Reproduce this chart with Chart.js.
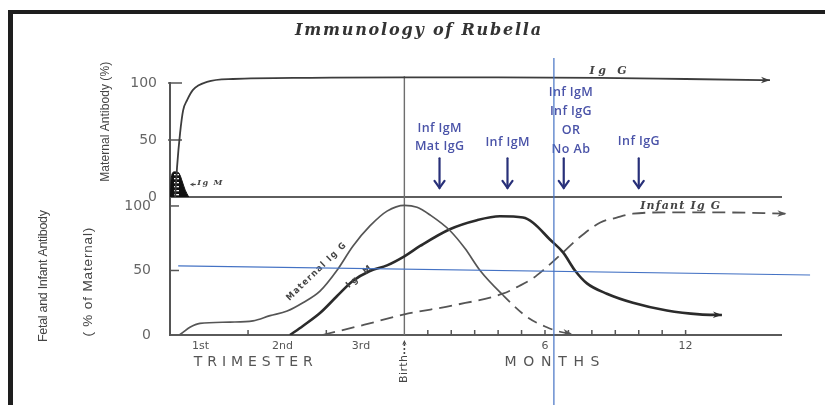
<!DOCTYPE html>
<html>
<head>
<meta charset="utf-8">
<script src="https://cdn.jsdelivr.net/npm/chart.js@4.4.1/dist/chart.umd.min.js"></script>
<style>
html,body{margin:0;padding:0;background:#fff;}
#wrap{position:relative;width:825px;height:405px;overflow:hidden;background:#fff;}
canvas{display:block;}
</style>
</head>
<body>
<div id="wrap"><canvas id="chart" width="825" height="405"></canvas></div>
<script>
// ===== Data =====
// x: months relative to birth (pregnancy drawn over -10..0, three trimesters)
// y: antibody level in %

// Upper panel: maternal antibody
const motherIgG_x = [-9.78, -9.7, -9.57, -9.44, -9.27, -9.02, -8.42, -7.31, -4, 0, 4, 8.3, 12, 15.6];
const motherIgG_y = [0, 26, 56, 76, 85, 94, 101, 103.5, 104.5, 105, 105, 104.5, 103.5, 102.5];
const motherIgM_x = [-9.98, -9.95, -9.88, -9.75, -9.62, -9.5, -9.35, -9.2];
const motherIgM_y = [0, 16, 21.5, 22, 21, 15, 6, 0];

// Lower panel: fetal and infant antibody (% of maternal)
const maternalIgG_x = [-9.6, -9.45, -9.15, -8.72, -7.44, -6.46, -5.73, -5.0, -4.33, -3.6, -2.88, -2.19, -1.47, -0.74, 0, 0.54, 1.1, 1.94, 2.59, 3.23, 4.2, 5.23, 6.08, 6.64, 7.15];
const maternalIgG_y = [0, 2, 6, 9, 10, 11, 15, 18.6, 25, 34, 50, 69, 84.5, 96, 100.5, 99, 93, 81, 67, 50, 31, 14, 6, 2.5, 1];
const fetalIgM_x = [-4.88, -4.33, -3.6, -2.88, -2.19, -1.47, -0.74, 0, 0.67, 1.94, 3.1, 4.08, 5.06, 5.49, 6.21, 6.77, 7.28, 7.79, 8.64, 9.75, 11.2, 12.6, 13.55];
const fetalIgM_y = [0, 7, 17, 30, 42, 49.6, 54, 61, 69, 82, 89, 92, 91, 87, 74, 64, 50, 40, 32, 25, 19, 16, 15.5];
const infantIgG_x = [-3.5, -1.7, 0, 2.1, 4.2, 4.9, 5.49, 5.91, 6.77, 7.36, 8.34, 9.06, 9.75, 11.2, 13.5, 16.3];
const infantIgG_y = [0, 8, 16, 23, 32, 38, 44, 50, 64, 74, 87, 91, 94, 95, 95, 94];

// Axis ticks and labels
const xTickValues = [-8.7, -5.2, -1.85, 6, 12];
const xTickLabels = ['1st', '2nd', '3rd', '6', '12'];
const yTickValues = [0, 50, 100];
const yTickLabels = ['0', '50', '100'];
const trimesterBounds = [-6.67, -3.33];
const monthTicks = [1, 2, 3, 4, 5, 6, 7, 8, 9, 10, 11, 12];

// Blue notes (month of arrow, month of text centre, lines, value of last text line on upper scale)
const noteMonths = [1.5, 4.4, 6.8, 10.0];
const noteTextMonths = [1.5, 4.4, 7.1, 10.0];
const noteLines = [['Inf IgM', 'Mat IgG'], ['Inf IgM'], ['Inf IgM', 'Inf IgG', 'OR', 'No Ab'], ['Inf IgG']];
const noteBaseValues = [44, 48, 42, 49];

// Blue guide lines drawn over the figure
const guideV_month = 6.38;
const guideH_months = [-9.65, 17.31];
const guideH_values = [53.5, 46.5];

// ===== Chart =====
Chart.defaults.font.family = "'DejaVu Sans', sans-serif";
const pts = (xs, ys) => xs.map((x, i) => ({ x, y: ys[i] }));

const canvas = document.getElementById('chart');
const mainCtx = canvas.getContext('2d');
function stripes() {
  const c = document.createElement('canvas');
  c.width = 20; c.height = 4;
  const g = c.getContext('2d');
  g.fillStyle = '#111'; g.fillRect(0, 0, 20, 4);
  g.fillStyle = '#fff'; g.fillRect(14, 2, 5, 1.3);
  return mainCtx.createPattern(c, 'repeat');
}

function seg(ctx, x1, y1, x2, y2) {
  ctx.beginPath(); ctx.moveTo(x1, y1); ctx.lineTo(x2, y2); ctx.stroke();
}
function txt(ctx, s, cx, cy, o) {
  ctx.save();
  ctx.translate(cx, cy);
  if (o.angle) ctx.rotate(o.angle);
  ctx.font = o.font;
  ctx.fillStyle = o.color || '#444';
  ctx.textBaseline = 'middle';
  ctx.textAlign = 'left';
  ctx.letterSpacing = '0px';
  let w = ctx.measureText(s).width;
  if (o.width) {
    const sp = (o.width - w) / Math.max(1, s.length - 1);
    ctx.letterSpacing = sp.toFixed(2) + 'px';
    w = o.width;
  } else if (o.spacing) {
    ctx.letterSpacing = o.spacing + 'px';
    w = w + o.spacing * (s.length - 1);
  }
  const x0 = o.align === 'right' ? -w : -w / 2;
  ctx.fillText(s, x0, 0);
  ctx.restore();
}
function head(ctx, x1, y1, x2, y2, len, half, color) {
  const a = Math.atan2(y2 - y1, x2 - x1);
  ctx.save();
  ctx.translate(x2, y2); ctx.rotate(a);
  ctx.beginPath();
  ctx.moveTo(0, 0); ctx.lineTo(-len, -half); ctx.lineTo(-len * 0.7, 0); ctx.lineTo(-len, half);
  ctx.closePath();
  ctx.fillStyle = color; ctx.fill();
  ctx.restore();
}

const deco = {
  id: 'deco',
  beforeDatasetsDraw(chart) {
    const { ctx, chartArea: a, scales: { x, yT, yB } } = chart;
    ctx.save();
    // base line of upper panel
    const y0T = yT.getPixelForValue(0);
    ctx.strokeStyle = '#5e5e5e'; ctx.lineWidth = 2;
    seg(ctx, a.left, y0T, a.right + 1, y0T);
    // birth line
    const xb = x.getPixelForValue(0);
    ctx.strokeStyle = '#6e6e6e'; ctx.lineWidth = 1.4;
    seg(ctx, xb, yT.getPixelForValue(106), xb, a.bottom);
    // inward y ticks
    ctx.strokeStyle = '#555'; ctx.lineWidth = 1.5;
    for (const v of yTickValues) {
      if (v === 0) continue;
      const p1 = yT.getPixelForValue(v), p2 = yB.getPixelForValue(v);
      seg(ctx, a.left - 2, p1, a.left + 12, p1);
      seg(ctx, a.left, p2, a.left + 9, p2);
    }
    // inward x ticks
    for (const v of trimesterBounds.concat(monthTicks)) {
      const px = x.getPixelForValue(v);
      seg(ctx, px, a.bottom, px, a.bottom - 5);
    }
    ctx.restore();
  },
  afterDatasetsDraw(chart) {
    const { ctx } = chart;
    chart.data.datasets.forEach((ds, i) => {
      if (!ds.arrow) return;
      const d = chart.getDatasetMeta(i).data;
      const p = d[d.length - 1], q = d[d.length - 2];
      head(ctx, q.x, q.y, p.x, p.y, 9, 3.2, ds.borderColor);
    });
  },
  afterDraw(chart) {
    const { ctx, chartArea: a, scales: { x, yT, yB } } = chart;
    ctx.save();
    // frame of the scanned figure
    ctx.fillStyle = '#1e1e1e';
    ctx.fillRect(8, 10, 5, 395);
    ctx.fillRect(8, 10, 817, 4);

    // title
    txt(ctx, 'Immunology of Rubella', 418, 31, { font: 'italic bold 16px "DejaVu Serif"', color: '#333', width: 246 });

    // upper panel tick labels (upper scale)
    yTickValues.forEach((v, i) => {
      txt(ctx, yTickLabels[i], a.left - 13, yT.getPixelForValue(v), { font: '14px "DejaVu Sans"', color: '#666', align: 'right' });
    });

    // axis titles
    const narrow = '12.5px "Liberation Sans", sans-serif';
    txt(ctx, 'Maternal Antibody (%)', 106, yT.getPixelForValue(66), { font: '12px "Liberation Sans", sans-serif', color: '#444', width: 120, angle: -Math.PI / 2 });
    txt(ctx, 'Fetal and Infant Antibody', 44, yB.getPixelForValue(45.7), { font: narrow, color: '#444', width: 132, angle: -Math.PI / 2 });
    txt(ctx, '( % of Maternal)', 88, yB.getPixelForValue(41), { font: '13.5px "Liberation Sans", sans-serif', color: '#444', width: 109, angle: -Math.PI / 2 });

    // x-axis titles
    txt(ctx, 'TRIMESTER', x.getPixelForValue(-6.45), a.bottom + 27, { font: '14px "DejaVu Sans"', color: '#555', width: 119 });
    txt(ctx, 'MONTHS', x.getPixelForValue(6.3), a.bottom + 27, { font: '14px "DejaVu Sans"', color: '#555', width: 95 });
    const xb = x.getPixelForValue(0);
    txt(ctx, 'Birth', xb, a.bottom + 34, { font: '11px "DejaVu Sans"', color: '#444', width: 28, angle: -Math.PI / 2 });
    ctx.strokeStyle = '#444'; ctx.lineWidth = 1.6; ctx.setLineDash([2, 2]);
    seg(ctx, xb, a.bottom + 19, xb, a.bottom + 9);
    ctx.setLineDash([]);
    head(ctx, xb, a.bottom + 12, xb, a.bottom + 5, 5, 2.2, '#444');

    // curve labels
    txt(ctx, 'Ig G', x.getPixelForValue(8.69), yT.getPixelForValue(110.5), { font: 'italic bold 11px "DejaVu Serif"', color: '#444', width: 37 });
    txt(ctx, 'Ig M', x.getPixelForValue(-8.3), yT.getPixelForValue(12), { font: 'italic bold 8px "DejaVu Serif"', color: '#444', width: 25 });
    ctx.strokeStyle = '#444'; ctx.lineWidth = 1.2;
    const ax1 = x.getPixelForValue(-8.9), ax2 = x.getPixelForValue(-9.15), ay = yT.getPixelForValue(11);
    seg(ctx, ax1, ay, ax2 + 3, ay);
    head(ctx, ax1, ay, ax2, ay, 4, 2, '#444');
    txt(ctx, 'Infant Ig G', x.getPixelForValue(11.77), yB.getPixelForValue(100), { font: 'italic bold 11px "DejaVu Serif"', color: '#444', width: 80 });
    txt(ctx, 'Maternal Ig G', x.getPixelForValue(-3.76), yB.getPixelForValue(49), { font: 'bold 9px "DejaVu Sans Condensed", "DejaVu Sans"', color: '#444', width: 79, angle: -44 * Math.PI / 180 });
    txt(ctx, 'Ig M', x.getPixelForValue(-1.94), yB.getPixelForValue(45), { font: 'bold 9px "DejaVu Sans Condensed", "DejaVu Sans"', color: '#444', width: 30, angle: -39 * Math.PI / 180 });

    // blue notes and arrows
    noteMonths.forEach((m, i) => {
      const lines = noteLines[i];
      const cx = x.getPixelForValue(noteTextMonths[i]);
      const yBase = yT.getPixelForValue(noteBaseValues[i]);
      lines.forEach((s, k) => {
        const y = yBase - (lines.length - 1 - k) * 18.8;
        txt(ctx, s, cx, y, { font: '600 12.5px "Open Sans"', color: '#4a53a8', spacing: 0.4 });
      });
      const ax = x.getPixelForValue(m);
      const y1 = yT.getPixelForValue(34), y2 = yT.getPixelForValue(8);
      ctx.strokeStyle = '#283079'; ctx.lineWidth = 2.2; ctx.lineCap = 'round';
      seg(ctx, ax, y1, ax, y2);
      ctx.beginPath(); ctx.moveTo(ax - 5, y2 - 7); ctx.lineTo(ax, y2); ctx.lineTo(ax + 5, y2 - 7); ctx.stroke();
    });

    // blue guide lines
    ctx.strokeStyle = '#4472c4'; ctx.lineWidth = 1.2; ctx.lineCap = 'butt';
    const gx = x.getPixelForValue(guideV_month);
    seg(ctx, gx, yT.getPixelForValue(122), gx, chart.height);
    seg(ctx, x.getPixelForValue(guideH_months[0]), yB.getPixelForValue(guideH_values[0]),
             x.getPixelForValue(guideH_months[1]), yB.getPixelForValue(guideH_values[1]));
    ctx.restore();
  }
};

new Chart(canvas, {
  type: 'line',
  data: {
    datasets: [
      { label: 'Maternal IgG', data: pts(motherIgG_x, motherIgG_y), yAxisID: 'yT', borderColor: '#3d3d3d', borderWidth: 1.8, arrow: true, clip: false },
      { label: 'Maternal IgM', data: pts(motherIgM_x, motherIgM_y), yAxisID: 'yT', borderColor: '#111', borderWidth: 1, backgroundColor: stripes(), fill: 'origin', cubicInterpolationMode: 'default', tension: 0.35 },
      { label: 'Maternal IgG in fetus/infant', data: pts(maternalIgG_x, maternalIgG_y), yAxisID: 'yB', borderColor: '#555', borderWidth: 1.7, arrow: true,
        segment: { borderDash: c => c.p0.parsed.x >= 4.1 ? [10, 7] : undefined } },
      { label: 'Ig M', data: pts(fetalIgM_x, fetalIgM_y), yAxisID: 'yB', borderColor: '#2b2b2b', borderWidth: 2.6, arrow: true },
      { label: 'Infant Ig G', data: pts(infantIgG_x, infantIgG_y), yAxisID: 'yB', borderColor: '#555', borderWidth: 1.8, borderDash: [13, 7], arrow: true, clip: false }
    ]
  },
  options: {
    responsive: false,
    animation: false,
    devicePixelRatio: 1,
    events: [],
    layout: { padding: { top: 83, right: 44, bottom: 0, left: 0 } },
    elements: {
      point: { radius: 0 },
      line: { cubicInterpolationMode: 'monotone', fill: false }
    },
    plugins: { legend: { display: false }, tooltip: { enabled: false }, title: { display: false } },
    scales: {
      x: {
        type: 'linear', position: 'bottom', min: -10, max: 16.07,
        afterFit: s => { s.height = 70; },
        afterBuildTicks: s => { s.ticks = xTickValues.map(v => ({ value: v })); },
        grid: { display: false, drawTicks: false },
        border: { display: true, color: '#5a5a5a', width: 2 },
        ticks: { autoSkip: false, maxRotation: 0, padding: 5, color: '#555', font: { size: 11 },
                 callback: (v, i) => xTickLabels[i] }
      },
      yB: {
        type: 'linear', position: 'left', weight: 1, min: 0, max: 195.3,
        afterFit: s => { s.width = 170; },
        afterBuildTicks: s => { s.ticks = yTickValues.map(v => ({ value: v })); },
        grid: { display: false, drawTicks: false },
        border: { display: true, color: '#555', width: 2 },
        ticks: { padding: 19, color: '#666', font: { size: 14 }, callback: (v, i) => yTickLabels[i] }
      },
      yT: {
        type: 'linear', position: 'left', weight: 0, min: -121.05, max: 100,
        afterFit: s => { s.width = 0; },
        afterBuildTicks: s => { s.ticks = yTickValues.map(v => ({ value: v })); },
        grid: { display: false, drawTicks: false },
        border: { display: false },
        ticks: { display: false }
      }
    }
  },
  plugins: [deco]
});
</script>
</body>
</html>
